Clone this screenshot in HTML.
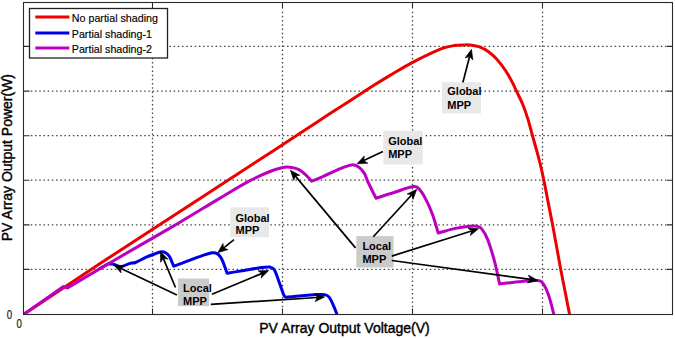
<!DOCTYPE html>
<html><head><meta charset="utf-8"><style>html,body{margin:0;padding:0;background:#fff;width:675px;height:338px;overflow:hidden}svg{display:block}</style></head>
<body><svg width="675" height="338" viewBox="0 0 675 338">
<rect width="675" height="338" fill="#fff"/>
<g stroke="#444" stroke-width="1.3" stroke-dasharray="1.5 2.7" fill="none"><line x1="30.85" y1="46.4" x2="666" y2="46.4"/><line x1="30.85" y1="91.1" x2="666" y2="91.1"/><line x1="30.85" y1="135.7" x2="666" y2="135.7"/><line x1="30.85" y1="180.2" x2="666" y2="180.2"/><line x1="30.85" y1="224.9" x2="666" y2="224.9"/><line x1="30.85" y1="269.4" x2="666" y2="269.4"/><line x1="152.5" y1="11.65" x2="152.5" y2="308"/><line x1="282.5" y1="11.65" x2="282.5" y2="308"/><line x1="412.5" y1="11.65" x2="412.5" y2="308"/><line x1="542.5" y1="11.65" x2="542.5" y2="308"/></g>
<defs><clipPath id="pc"><rect x="23.5" y="2.5" width="649" height="312"/></clipPath></defs>
<g fill="none" stroke-width="3" stroke-linejoin="round" stroke-linecap="round" clip-path="url(#pc)">
<path stroke="#ee0000" d="M23.5 314.5 C49.0 297.5 74.4 280.4 100.0 263.6 C133.2 241.8 166.7 220.2 200.0 198.5 C233.3 176.8 266.7 155.1 300.0 133.3 C310.0 126.8 320.0 120.1 330.0 113.6 C340.0 107.1 350.0 100.7 360.0 94.2 C365.0 91.0 370.0 87.8 375.0 84.6 C380.0 81.5 385.0 78.4 390.0 75.4 C397.5 71.0 404.9 66.3 412.6 62.3 C422.1 57.4 431.7 52.6 441.6 48.6 C445.5 47.0 449.8 46.3 454.0 45.6 C457.5 45.0 461.1 45.0 464.7 44.9 C467.1 44.8 469.6 44.9 472.0 45.2 C474.3 45.5 476.7 45.9 478.9 46.7 C482.0 47.9 485.1 49.3 487.8 51.2 C491.0 53.4 494.0 56.1 496.6 59.0 C499.9 62.6 502.8 66.5 505.5 70.5 C508.1 74.4 510.4 78.7 512.6 82.9 C514.0 85.6 515.2 88.4 516.5 91.2 C518.6 95.6 520.9 100.0 522.8 104.5 C524.8 109.4 526.5 114.5 528.1 119.6 C529.7 124.9 531.0 130.3 532.5 135.6 C534.7 143.5 537.0 151.3 539.0 159.2 C540.8 166.1 542.3 173.0 543.8 180.0 C545.2 186.6 546.4 193.3 547.7 200.0 C549.3 208.3 551.0 216.5 552.6 224.8 C555.4 239.6 557.9 254.4 560.7 269.2 C563.7 284.8 566.8 300.4 569.9 316.0"/>
<path stroke="#0000e6" d="M100.0 268.6 C102.7 267.1 105.3 265.5 108.0 264.0 L108.0 264.0 C109.7 264.0 111.4 263.7 113.0 264.0 C115.7 264.6 118.3 266.8 121.0 266.7 C123.8 266.6 126.5 264.4 129.3 263.6 C131.3 263.0 133.6 263.2 135.5 262.5 C139.2 261.1 142.6 258.8 146.2 257.2 C148.5 256.2 150.9 255.4 153.3 254.5 C155.7 253.6 158.0 252.2 160.4 251.9 C162.1 251.7 164.2 252.0 165.7 252.8 C167.1 253.5 168.5 254.9 169.3 256.3 C171.1 259.3 172.2 262.8 173.7 266.1 L173.7 266.1 C176.4 265.2 179.1 264.4 181.7 263.4 C187.1 261.4 192.4 259.1 197.8 257.2 C202.5 255.6 207.2 253.7 212.0 252.8 C213.7 252.5 215.9 252.8 217.3 253.7 C219.1 254.9 220.7 257.0 221.7 259.0 C223.9 263.5 225.3 268.5 227.1 273.2 L227.1 273.2 C232.7 272.3 238.3 271.4 243.9 270.5 C249.8 269.5 255.7 268.3 261.7 267.5 C264.3 267.1 267.2 266.6 269.7 267.0 C271.3 267.3 273.3 268.2 274.1 269.6 C276.5 273.6 277.8 278.6 279.5 283.1 C281.1 287.2 282.2 291.5 284.0 295.5 C284.3 296.3 285.2 296.7 285.8 297.3 L285.8 297.3 C292.0 296.7 298.2 296.0 304.4 295.5 C308.5 295.1 312.7 294.8 316.8 294.6 C319.5 294.5 322.3 294.1 324.8 294.6 C326.5 295.0 328.3 296.0 329.3 297.3 C331.2 299.8 332.4 303.2 333.7 306.2 C335.1 309.4 336.3 312.7 337.6 316.0"/>
<path stroke="#bb00c0" d="M23.5 314.5 C36.8 305.2 50.2 295.9 63.5 286.6 L63.5 286.6 C64.8 287.0 66.2 287.5 67.5 287.9 L67.5 287.9 C78.3 281.5 89.1 275.0 100.0 268.6 C113.3 260.8 126.7 253.1 140.0 245.4 C153.3 237.7 166.7 230.0 180.0 222.2 C193.4 214.3 206.6 206.1 220.0 198.1 C230.0 192.2 239.8 186.0 250.0 180.6 C256.5 177.2 263.2 174.2 270.0 171.5 C274.2 169.8 278.6 168.5 283.0 167.5 C285.1 167.0 287.4 167.0 289.5 167.2 C292.5 167.6 295.7 168.0 298.4 169.3 C301.0 170.5 303.3 172.6 305.5 174.6 C307.7 176.6 309.6 179.0 311.7 181.2 L311.7 181.2 C315.6 179.6 319.5 178.1 323.3 176.4 C329.2 173.8 335.0 170.8 341.0 168.4 C344.5 167.0 348.1 165.3 351.7 164.9 C353.7 164.7 356.2 165.5 357.9 166.6 C360.3 168.1 362.5 170.5 364.1 172.9 C365.9 175.6 366.6 179.0 368.0 182.0 C370.6 187.4 373.3 192.8 376.0 198.2 L376.0 198.2 C382.5 196.1 389.0 194.0 395.5 192.0 C401.4 190.2 407.4 187.5 413.3 186.6 C415.1 186.3 417.3 187.1 418.6 188.4 C421.5 191.3 423.7 195.3 425.7 199.1 C428.3 203.9 430.5 209.0 432.4 214.2 C434.7 220.3 436.3 226.7 438.2 233.0 L438.2 233.0 C444.0 231.5 449.7 229.6 455.5 228.4 C460.2 227.4 464.9 226.8 469.7 226.3 C472.0 226.1 474.5 225.9 476.8 226.3 C478.4 226.6 480.3 227.2 481.3 228.4 C483.8 231.4 486.0 235.3 487.5 239.1 C490.5 246.6 492.7 254.5 494.8 262.4 C496.7 269.5 498.0 276.7 499.6 283.9 L499.6 283.9 C507.0 283.1 514.4 282.1 521.8 281.5 C527.3 281.0 533.1 279.9 538.3 280.6 C540.3 280.8 542.3 282.5 543.5 284.2 C545.8 287.5 547.4 291.6 548.7 295.5 C551.0 302.2 552.4 309.2 554.3 316.0"/>
</g>
<g font-family="&quot;Liberation Sans&quot;, sans-serif" font-weight="bold" font-size="11px" fill="#000">
<rect x="442.0" y="82.2" width="39.0" height="31.1" fill="#e8e8e8"/><text transform="translate(447.3 95.3) scale(1 1.07)">Global</text><text transform="translate(447.3 108.6) scale(1 1.07)">MPP</text>
<rect x="383.4" y="130.7" width="39.4" height="33.7" fill="#e8e8e8"/><text transform="translate(388.2 144.5) scale(1 1.07)">Global</text><text transform="translate(388.2 157.8) scale(1 1.07)">MPP</text>
<rect x="230.4" y="207.3" width="38.6" height="29.9" fill="#e8e8e8"/><text transform="translate(235.5 221.6) scale(1 1.07)">Global</text><text transform="translate(235.5 234.3) scale(1 1.07)">MPP</text>
<rect x="178.0" y="278.5" width="31.1" height="27.6" fill="#cbcbcb"/><text transform="translate(183.1 292.2) scale(1 1.07)">Local</text><text transform="translate(183.1 305.3) scale(1 1.07)">MPP</text>
<rect x="356.3" y="236.1" width="37.3" height="31.4" fill="#cbcbcb"/><text transform="translate(362.4 250.2) scale(1 1.07)">Local</text><text transform="translate(362.4 263.2) scale(1 1.07)">MPP</text>
</g>
<g stroke="#000" stroke-width="1.7" fill="#000">
<line x1="462.9" y1="82.4" x2="469.6" y2="56.5"/><path stroke-width="0.6" d="M471.5 49.3 L472.9 60.0 L469.6 56.5 L465.1 58.0 Z"/>
<line x1="382.9" y1="151.6" x2="363.7" y2="160.6"/><path stroke-width="0.6" d="M357.0 163.8 L364.3 155.9 L363.7 160.6 L367.8 163.2 Z"/>
<line x1="234.0" y1="239.6" x2="223.5" y2="248.1"/><path stroke-width="0.6" d="M217.7 252.8 L223.0 243.4 L223.5 248.1 L228.0 249.6 Z"/>
<line x1="176.9" y1="294.9" x2="120.5" y2="268.2"/><path stroke-width="0.6" d="M113.8 265.0 L124.5 265.7 L120.5 268.2 L121.1 272.9 Z"/>
<line x1="175.5" y1="287.5" x2="163.3" y2="258.3"/><path stroke-width="0.6" d="M160.4 251.5 L168.0 259.2 L163.3 258.3 L160.6 262.3 Z"/>
<line x1="212.0" y1="294.3" x2="262.0" y2="273.4"/><path stroke-width="0.6" d="M268.8 270.5 L261.1 278.1 L262.0 273.4 L258.0 270.7 Z"/>
<line x1="210.8" y1="304.3" x2="317.4" y2="297.5"/><path stroke-width="0.6" d="M324.8 297.0 L315.1 301.6 L317.4 297.5 L314.6 293.6 Z"/>
<line x1="355.5" y1="247.9" x2="295.2" y2="175.9"/><path stroke-width="0.6" d="M290.4 170.2 L299.9 175.3 L295.2 175.9 L293.8 180.4 Z"/>
<line x1="373.3" y1="236.8" x2="411.8" y2="194.8"/><path stroke-width="0.6" d="M416.8 189.3 L413.0 199.4 L411.8 194.8 L407.1 194.0 Z"/>
<line x1="391.8" y1="256.1" x2="471.5" y2="231.0"/><path stroke-width="0.6" d="M478.6 228.8 L470.3 235.6 L471.5 231.0 L467.9 228.0 Z"/>
<line x1="391.8" y1="260.5" x2="530.5" y2="279.4"/><path stroke-width="0.6" d="M537.8 280.4 L527.4 283.0 L530.5 279.4 L528.4 275.1 Z"/>
</g>
<rect x="23.5" y="2.5" width="649" height="312" fill="none" stroke="#2a2a2a" stroke-width="1.1"/>
<path d="M23.5 46.4H29.5M672.5 46.4H666.5M23.5 91.1H29.5M672.5 91.1H666.5M23.5 135.7H29.5M672.5 135.7H666.5M23.5 180.2H29.5M672.5 180.2H666.5M23.5 224.9H29.5M672.5 224.9H666.5M23.5 269.4H29.5M672.5 269.4H666.5M152.5 2.5V8.5M152.5 314.5V308.5M282.5 2.5V8.5M282.5 314.5V308.5M412.5 2.5V8.5M412.5 314.5V308.5M542.5 2.5V8.5M542.5 314.5V308.5" stroke="#2a2a2a" stroke-width="1.1" fill="none"/>
<rect x="29.5" y="8.5" width="138" height="49.5" fill="#fff" stroke="#222" stroke-width="1.3"/>
<g stroke-width="3">
<line x1="35.3" y1="16.9" x2="69.3" y2="16.9" stroke="#ee0000"/>
<line x1="35.3" y1="33" x2="69.3" y2="33" stroke="#0000e6"/>
<line x1="35.3" y1="48" x2="69.3" y2="48" stroke="#bb00c0"/>
</g>
<g font-family="&quot;Liberation Sans&quot;, sans-serif" font-size="10.7px" fill="#000" stroke="#000" stroke-width="0.15">
<text transform="translate(71.8 22.1) scale(1 1.08)">No partial shading</text>
<text transform="translate(71.8 37.6) scale(1 1.08)">Partial shading-1</text>
<text transform="translate(71.8 52.7) scale(1 1.08)">Partial shading-2</text>
</g>
<g font-family="&quot;Liberation Sans&quot;, sans-serif" font-size="14px" fill="#000" stroke="#000" stroke-width="0.4">
<text x="344.5" y="333.2" text-anchor="middle">PV Array Output Voltage(V)</text>
<text transform="translate(12.3 157.6) rotate(-90)" text-anchor="middle">PV Array Output Power(W)</text>
</g>
<g font-family="&quot;Liberation Sans&quot;, sans-serif" font-size="11px" fill="#222" stroke="#222" stroke-width="0.2">
<text transform="translate(6.8 318.7) scale(0.88 1.1)">0</text>
<text transform="translate(16.6 328.1) scale(0.88 1.1)">0</text>
</g>
</svg>
</body></html>
